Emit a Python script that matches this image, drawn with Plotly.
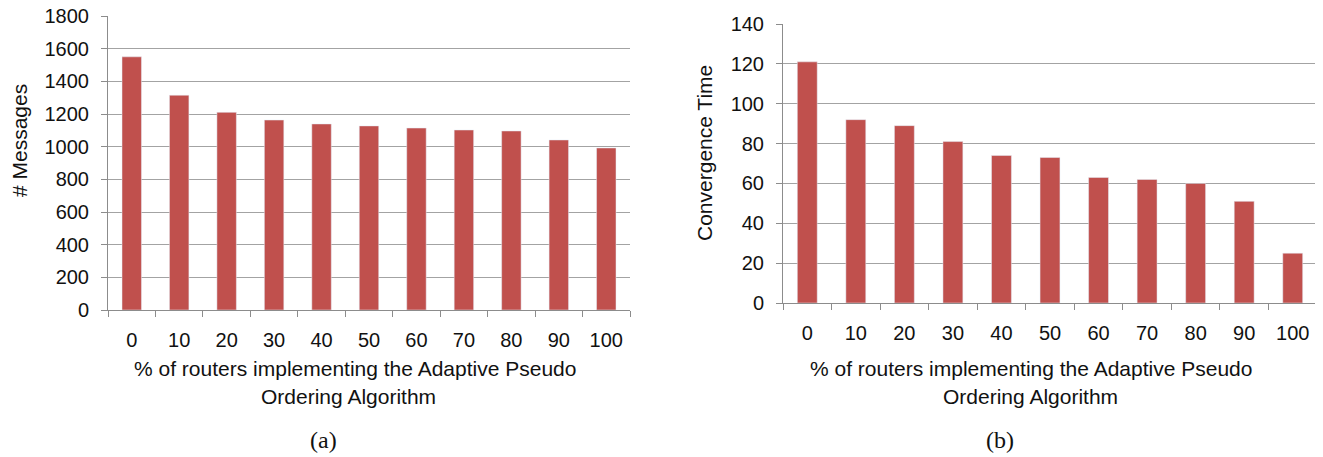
import plotly.graph_objects as go

categories = ["0", "10", "20", "30", "40", "50", "60", "70", "80", "90", "100"]
messages = [1550, 1315, 1210, 1163, 1139, 1127, 1114, 1102, 1096, 1041, 992]
conv_time = [121, 92, 89, 81, 74, 73, 63, 62, 60, 51, 25]
x_title_1 = "% of routers implementing the Adaptive Pseudo"
x_title_2 = "Ordering Algorithm"

W, H = 1323, 457
OFF = 8  # page body margin
BAR = "#C0504D"
GRID = "#A3A3A3"
AXIS = "#8C8C8C"
FONT = "Liberation Sans, Arial, sans-serif"
TXT = "#111111"

def px(x):
    return (x - OFF) / W

def py(y):
    return 1 - (y - OFF) / H

fig = go.Figure()
fig.add_trace(go.Bar(x=categories, y=messages, marker_color=BAR, width=0.41,
                     xaxis="x", yaxis="y", showlegend=False))
fig.add_trace(go.Bar(x=categories, y=conv_time, marker_color=BAR, width=0.41,
                     xaxis="x2", yaxis="y2", showlegend=False))

def xax(domain, anchor):
    return dict(domain=domain, anchor=anchor, type="category", automargin=False,
                tickson="boundaries", ticks="outside", ticklen=6, tickcolor=AXIS, tickwidth=1,
                showline=True, linecolor=AXIS, linewidth=1, showgrid=False,
                tickfont=dict(family=FONT, size=20, color=TXT),
                ticklabelstandoff=12, ticklabeloverflow="allow")

def yax(domain, anchor, rng, dtick):
    return dict(domain=domain, anchor=anchor, range=rng, dtick=dtick, automargin=False,
                ticks="outside", ticklen=6, tickcolor=AXIS, tickwidth=1,
                showline=True, linecolor=AXIS, linewidth=1,
                showgrid=True, gridcolor=GRID, gridwidth=1, zeroline=False,
                tickfont=dict(family=FONT, size=20, color=TXT),
                ticklabelstandoff=8, ticklabeloverflow="allow")

def ann(text, x, y, size=21, angle=0, family=FONT):
    return dict(text=text, x=px(x), y=py(y), xref="paper", yref="paper",
                xanchor="center", yanchor="middle", showarrow=False, textangle=angle,
                borderpad=0, font=dict(family=family, size=size, color=TXT))

fig.update_layout(
    width=W, height=H, margin=dict(l=0, r=0, t=0, b=0),
    paper_bgcolor="white", plot_bgcolor="white",
    xaxis=xax([px(108), px(630)], "y"),
    yaxis=yax([py(310), py(16)], "x", [0, 1800], 200),
    xaxis2=xax([px(783), px(1317)], "y2"),
    yaxis2=yax([py(303), py(24)], "x2", [0, 140], 20),
    annotations=[
        ann("# Messages", 19, 141, angle=-90),
        ann("Convergence Time", 704, 153, angle=-90),
        ann(x_title_1, 355, 368),
        ann(x_title_2, 349, 396),
        ann(x_title_1, 1031, 368),
        ann(x_title_2, 1030, 396),
        ann("(a)", 323, 440, size=24, family="Liberation Serif, DejaVu Serif, serif"),
        ann("(b)", 1000, 440, size=24, family="Liberation Serif, DejaVu Serif, serif"),
    ],
)

fig.write_html("out.html")
